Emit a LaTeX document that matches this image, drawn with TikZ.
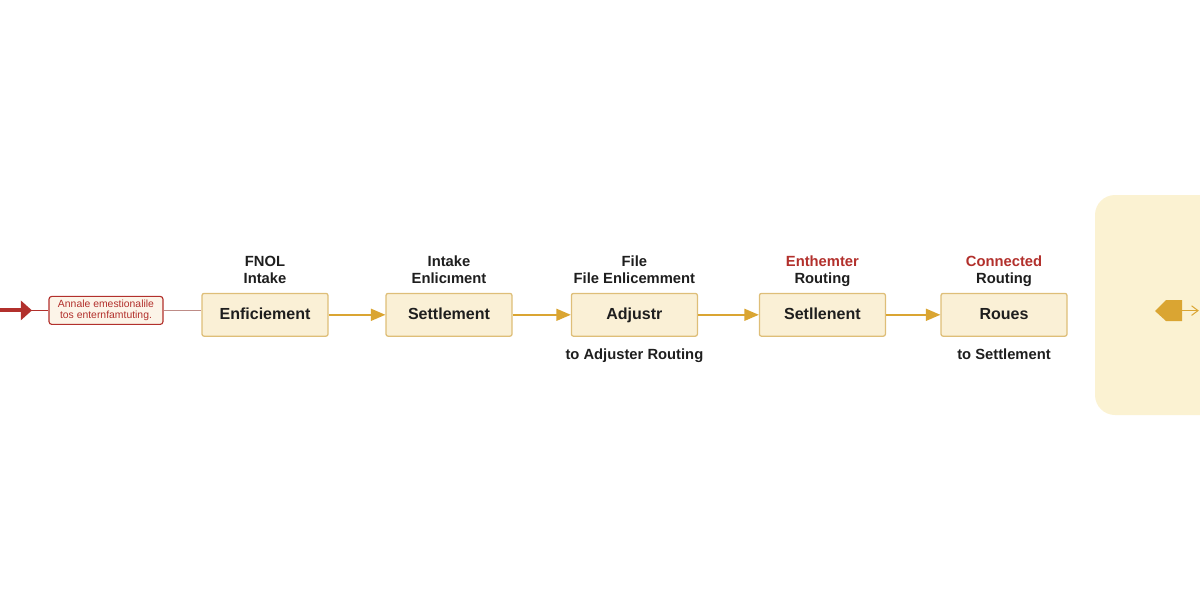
\documentclass[tikz,border=0pt]{standalone}
\usepackage{fontspec}
\setmainfont{Liberation Sans}
\setsansfont{Liberation Sans}
\usetikzlibrary{arrows.meta,positioning}

\begin{document}
\begin{tikzpicture}[>=Latex,font=\sffamily,
 stage/.style={draw=stageline,fill=stagefill,line width=0.9pt,rounded corners=1.5pt,
  minimum width=3.15cm,minimum height=1.07cm,text=ink,text height=1.6ex,text depth=0.45ex,
  font=\sffamily\bfseries\fontsize{11.4}{12}\selectfont},
 caption/.style={align=center,inner sep=0pt,text=ink,
  font=\sffamily\bfseries\fontsize{10.5}{12.5}\selectfont},
 flow/.style={gold,line width=1pt,-{Triangle[length=3.6mm,width=3mm]}},
 notebox/.style={draw=alert,fill=notefill,line width=0.8pt,rounded corners=2pt,
  minimum width=2.85cm,minimum height=0.7cm,inner sep=1.5pt,align=center,
  text=alert,font=\sffamily\fontsize{7.4}{8}\selectfont}]
\definecolor{ink}{RGB}{30,30,30}
\definecolor{alert}{RGB}{178,48,44}
\definecolor{notefill}{RGB}{252,244,232}
\definecolor{notelink}{RGB}{190,140,135}
\definecolor{stagefill}{RGB}{250,240,214}
\definecolor{stageline}{RGB}{222,190,120}
\definecolor{gold}{RGB}{218,165,50}
\definecolor{panel}{RGB}{251,242,210}
\useasboundingbox (0,0) rectangle (30,15);
% side panel, runs past the right edge
\fill[panel,rounded corners=0.5cm] (27.375,4.625) rectangle (31,10.125);
\node[notebox] (note) at (2.65,7.24) {Annale emestionalile\\tos enternfamtuting.};
\coordinate (src) at (0,7.24);
\coordinate (tip) at (0.8,7.24);
\draw[alert,line width=0.6pt] (src) -- (note);
\draw[alert,line width=2.8pt,-{Triangle[length=2.8mm,width=4.8mm]}] (src) -- (tip);
\node[stage] (fnol) at (6.625,7.13) {Enficiement};
\node[stage] (intake) at (11.225,7.13) {Settlement};
\node[stage] (file) at (15.86,7.13) {Adjustr};
\node[stage] (route) at (20.56,7.13) {Setllenent};
\node[stage] (settle) at (25.1,7.13) {Roues};
\draw[notelink,line width=0.7pt] (note.east) -- (note.east -| fnol.west);
\draw[flow] (fnol) -- (intake);
\draw[flow] (intake) -- (file);
\draw[flow] (file) -- (route);
\draw[flow] (route) -- (settle);
\node[caption,above=0.14cm of fnol] {FNOL\\Intake\vphantom{g}};
\node[caption,above=0.14cm of intake] {Intake\\Enlicıment\vphantom{g}};
\node[caption,above=0.14cm of file] {File\\File Enlicemment\vphantom{g}};
\node[caption,above=0.14cm of route] {{\color{alert}Enthemter}\\Routing};
\node[caption,above=0.14cm of settle] {{\color{alert}Connected}\\Routing};
\node[caption,below=0.28cm of file] {to Adjuster Routing};
\node[caption,below=0.28cm of settle] {to Settlement};
% tag icon inside the panel
\fill[gold] (28.875,7.225) -- (29.15,7.5) -- (29.55,7.5) -- (29.55,6.975)
 -- (29.15,6.975) -- cycle;
\coordinate (tagend) at (29.55,7.235);
\coordinate (edge) at (29.97,7.235);
\draw[gold,line width=0.7pt,-{Straight Barb[length=1.6mm,width=2.4mm]}] (tagend) -- (edge);
\end{tikzpicture}
\end{document}
